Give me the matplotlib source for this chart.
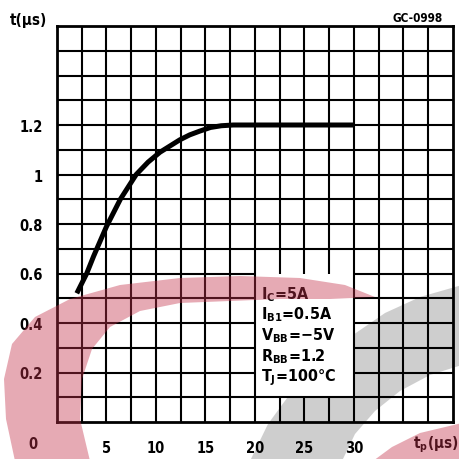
import numpy as np
import matplotlib
matplotlib.use("Agg")
import matplotlib.pyplot as plt
from matplotlib import font_manager
from matplotlib.patches import Rectangle

# curve
tp = [2.0, 3.0, 3.7, 5.0, 6.4, 8.0, 9.2, 10.4, 12.4, 13.4, 14.4, 15.5, 16.6, 17.8, 20.0, 25.0, 30.0]
t = [0.52, 0.60, 0.67, 0.79, 0.90, 1.00, 1.05, 1.09, 1.14, 1.16, 1.175, 1.19, 1.197, 1.20, 1.20, 1.20, 1.20]

x_ticks = [5, 10, 15, 20, 25, 30]
y_ticks = [0.2, 0.4, 0.6, 0.8, 1.0, 1.2]
y_tick_labels = ["0.2", "0.4", "0.6", "0.8", "1", "1.2"]
conditions = [r"$\mathregular{I_C}$=5A", r"$\mathregular{I_{B1}}$=0.5A",
              r"$\mathregular{V_{BB}}$=−5V", r"$\mathregular{R_{BB}}$=1.2",
              r"$\mathregular{T_J}$=100°C"]
box_x = (20, 30)
box_y = (0.1, 0.6)

names = {f.name for f in font_manager.fontManager.ttflist}
if "Liberation Sans Narrow" in names:
    FONT = dict(family="Liberation Sans Narrow", weight="bold")
else:
    FONT = dict(family="DejaVu Sans", weight="bold", stretch="condensed")

W = H = 460
fig = plt.figure(figsize=(4.6, 4.6), dpi=100)

# full-figure layers in pixel units for the watermark shapes
under = fig.add_axes([0, 0, 1, 1], zorder=-1)
over = fig.add_axes([0, 0, 1, 1], zorder=5)
for lay in (under, over):
    lay.set_xlim(0, W)
    lay.set_ylim(H, 0)
    lay.axis("off")

ax = fig.add_axes([57 / W, 1 - 423 / H, 396 / W, 396 / H], zorder=1)
ax.set_facecolor("none")
ax.set_xlim(0, 40)
ax.set_ylim(0, 1.6)

ax.set_xticks(x_ticks)
ax.set_xticklabels([str(v) for v in x_ticks], fontsize=10.5, **FONT)
ax.set_yticks(y_ticks)
ax.set_yticklabels(y_tick_labels, fontsize=10.5, **FONT)
ax.tick_params(length=0)
ax.tick_params(axis="x", pad=13)
ax.tick_params(axis="y", pad=10)
for s in ax.spines.values():
    s.set_linewidth(2)

# grid, leaving the conditions box open
grid_kw = dict(color="black", lw=1.5, zorder=1)
for gx in np.arange(2.5, 40, 2.5):
    if box_x[0] < gx < box_x[1]:
        ax.vlines(gx, 0, box_y[0], **grid_kw)
        ax.vlines(gx, box_y[1], 1.6, **grid_kw)
    else:
        ax.vlines(gx, 0, 1.6, **grid_kw)
for gy in np.arange(0.1, 1.6, 0.1):
    if box_y[0] + 0.01 < gy < box_y[1] + 0.01:
        ax.hlines(gy, 0, box_x[0], **grid_kw)
        ax.hlines(gy, box_x[1], 40, **grid_kw)
    else:
        ax.hlines(gy, 0, 40, **grid_kw)

ax.add_patch(Rectangle((box_x[0], box_y[0]), box_x[1] - box_x[0], box_y[1] - box_y[0],
                       facecolor="white", edgecolor="none", zorder=0.1))
for i, line in enumerate(conditions):
    ax.text(20.6, 0.52 - i * 0.084, line, fontsize=11.5, va="center",
            zorder=3, **FONT)

ax.plot(tp, t, color="black", lw=3.6, solid_capstyle="butt", zorder=4)

fig.text(33 / W, 1 - 445 / H, "0", fontsize=10.5, ha="center", va="center", **FONT)
fig.text(10 / W, 1 - 21 / H, "t(µs)", fontsize=11, ha="left", va="center", **FONT)
fig.text(459 / W, 1 - 445 / H, r"$\mathregular{t_p}$(µs)", fontsize=11,
         ha="right", va="center", **FONT)
fig.text(443 / W, 1 - 18 / H, "GC-0998", fontsize=8.5, ha="right", va="center", **FONT)

# watermark shapes, in image pixels
gray_pts = [(250, 462), (268, 425), (290, 395), (318, 365), (350, 338), (385, 314),
            (420, 298), (462, 286), (462, 366), (430, 376), (400, 392), (375, 412),
            (355, 435), (342, 462)]
pink_pts = [(15, 462), (6, 420), (4, 380), (12, 345), (35, 318), (70, 300), (120, 286),
            (180, 279), (240, 277), (300, 279), (345, 286), (375, 298),
            (330, 300), (280, 300), (230, 302), (180, 304), (140, 312), (110, 328),
            (92, 350), (82, 380), (80, 420), (90, 462)]
pink2_pts = [(373, 462), (392, 448), (420, 434), (462, 424), (462, 462)]

under.fill([p[0] for p in gray_pts], [p[1] for p in gray_pts],
           color="#8c8c8c", alpha=0.42, lw=0)
for pts in (pink_pts, pink2_pts):
    over.fill([p[0] for p in pts], [p[1] for p in pts],
              color="#c3314a", alpha=0.41, lw=0)

fig.savefig("out.png", dpi=100)
